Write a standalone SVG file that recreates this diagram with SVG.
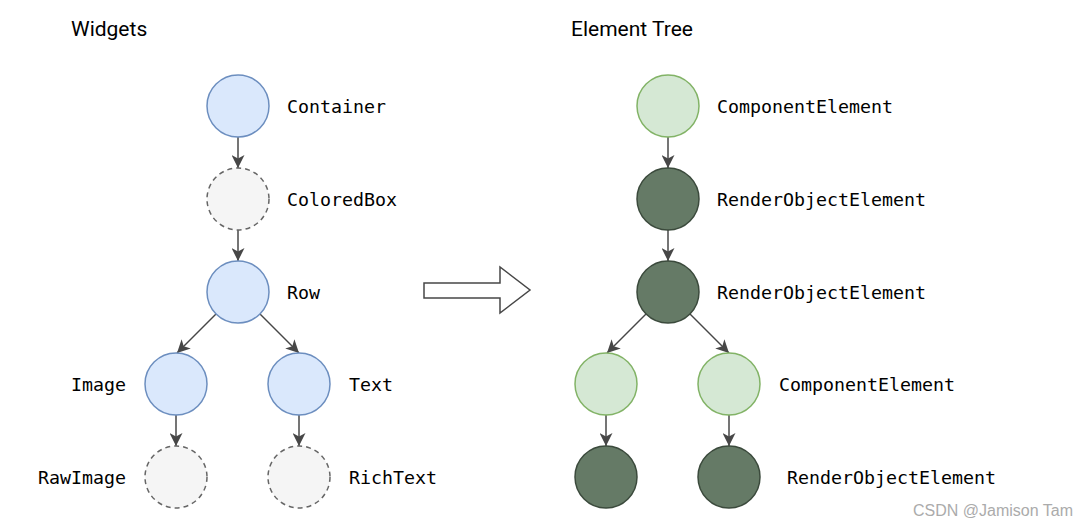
<svg xmlns="http://www.w3.org/2000/svg" width="1088" height="526" viewBox="0 0 1088 526">
<defs>
<marker id="ah" markerUnits="userSpaceOnUse" markerWidth="14" markerHeight="13" viewBox="0 0 14 13" refX="13" refY="6.5" orient="auto">
<path d="M0,0 L13,6.5 L0,13 L3.5,6.5 Z" fill="#474747"/>
</marker>
<style>
.title{font-family:Roboto,"Noto Sans",sans-serif;font-size:21px;fill:#000}
.lbl{font-family:"DejaVu Sans Mono","Liberation Mono",monospace;font-size:18.3px;fill:#000}
.blue{fill:#dae8fc;stroke:#6c8ebf;stroke-width:1.5}
.gray{fill:#f5f5f5;stroke:#666;stroke-width:1.5;stroke-dasharray:5 4}
.lg{fill:#d5e8d4;stroke:#82b366;stroke-width:1.5}
.dg{fill:#657a66;stroke:#3b4a3c;stroke-width:1.5}
.e{stroke:#474747;stroke-width:1.5;fill:none;marker-end:url(#ah)}
.wm{font-family:"Liberation Sans",Arial,sans-serif;font-size:16px;fill:#ababab}
</style>
</defs>
<rect width="1088" height="526" fill="#fff"/>
<text class="title" x="71" y="36">Widgets</text>
<text class="title" x="571" y="36">Element Tree</text>

<g id="connectors">
<line class="e" x1="238" y1="137" x2="238" y2="168"/>
<line class="e" x1="238" y1="230" x2="238" y2="261"/>
<line class="e" x1="216" y1="314" x2="177" y2="353"/>
<line class="e" x1="260" y1="314" x2="299" y2="353"/>
<line class="e" x1="176" y1="415" x2="176" y2="446"/>
<line class="e" x1="299" y1="415" x2="299" y2="446"/>
<line class="e" x1="668" y1="137" x2="668" y2="168"/>
<line class="e" x1="668" y1="230" x2="668" y2="261"/>
<line class="e" x1="646" y1="314" x2="607" y2="353"/>
<line class="e" x1="690" y1="314" x2="729" y2="353"/>
<line class="e" x1="606" y1="415" x2="606" y2="446"/>
<line class="e" x1="729" y1="415" x2="729" y2="446"/>
</g>

<g id="w-container"><circle class="blue" cx="238" cy="106" r="31"/><text class="lbl" x="287" y="113">Container</text></g>
<g id="w-coloredbox"><circle class="gray" cx="238" cy="199" r="31"/><text class="lbl" x="287" y="206">ColoredBox</text></g>
<g id="w-row"><circle class="blue" cx="238" cy="292" r="31"/><text class="lbl" x="287" y="299">Row</text></g>
<g id="w-image"><circle class="blue" cx="176" cy="384" r="31"/><text class="lbl" x="126" y="391" text-anchor="end">Image</text></g>
<g id="w-text"><circle class="blue" cx="299" cy="384" r="31"/><text class="lbl" x="349" y="391">Text</text></g>
<g id="w-rawimage"><circle class="gray" cx="176" cy="477" r="31"/><text class="lbl" x="126" y="484" text-anchor="end">RawImage</text></g>
<g id="w-richtext"><circle class="gray" cx="299" cy="477" r="31"/><text class="lbl" x="349" y="484">RichText</text></g>

<g id="big-arrow"><path d="M424,283 L500,283 L500,267 L530,290 L500,313 L500,298 L424,298 Z" fill="#fff" stroke="#474747" stroke-width="1.5" stroke-linejoin="miter"/></g>

<g id="e-component"><circle class="lg" cx="668" cy="106" r="31"/><text class="lbl" x="717" y="113">ComponentElement</text></g>
<g id="e-render1"><circle class="dg" cx="668" cy="199" r="31"/><text class="lbl" x="717" y="206">RenderObjectElement</text></g>
<g id="e-render2"><circle class="dg" cx="668" cy="292" r="31"/><text class="lbl" x="717" y="299">RenderObjectElement</text></g>
<g id="e-left-comp"><circle class="lg" cx="606" cy="384" r="31"/></g>
<g id="e-right-comp"><circle class="lg" cx="729" cy="384" r="31"/><text class="lbl" x="779" y="391">ComponentElement</text></g>
<g id="e-left-render"><circle class="dg" cx="606" cy="477" r="31"/></g>
<g id="e-right-render"><circle class="dg" cx="729" cy="477" r="31"/><text class="lbl" x="787" y="484">RenderObjectElement</text></g>

<text class="wm" x="913" y="516">CSDN @Jamison Tam</text>
</svg>
